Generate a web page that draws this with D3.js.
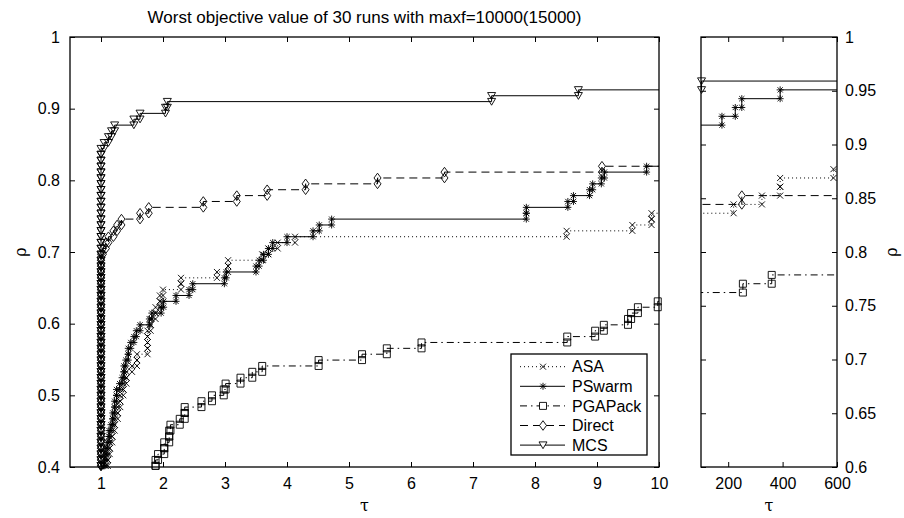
<!DOCTYPE html>
<html lang="en">
<head>
<meta charset="UTF-8">
<title>Worst objective value of 30 runs - performance profile</title>
<script src="https://d3js.org/d3.v7.min.js"></script>
<style>
  body { margin: 0; background: #fff; }
  svg { display: block; font-family: 'Liberation Sans', Arial, sans-serif; }
  .tick text { font-size: 16px; fill: #000; }
  .tick line { stroke: #000; stroke-width: 1; }
  .frame { fill: none; stroke: #000; stroke-width: 1.3; }
  .greek { font-family: 'DejaVu Serif', 'Liberation Serif', serif; font-size: 16px; }
</style>
</head>
<body>
<svg width="904" height="518"></svg>
<script>
const NP = 122; // number of test problems

const solvers = ["ASA", "PSwarm", "PGAPack", "Direct", "MCS"];

// [tau, cumulative number of problems with ratio <= tau]
const asaSteps = [[1.0, 35], [1.05, 45], [1.08, 49], [1.11, 51], [1.14, 53], [1.18, 55], [1.22, 57],
  [1.27, 59], [1.31, 61], [1.36, 63], [1.41, 65], [1.50, 66], [1.58, 68], [1.75, 72], [1.80, 74],
  [1.88, 76], [1.95, 78], [2.0, 79], [2.29, 81], [2.87, 82], [3.05, 84], [3.6, 85], [3.7, 86],
  [3.85, 87], [4.13, 88], [8.51, 89], [9.57, 90], [9.88, 92], [15, 94], [30, 97], [60, 100],
  [90, 102], [220, 103], [324, 104], [391, 106], [587, 107]];

const pswarmSteps = [[1.0, 40], [1.02, 46], [1.04, 49], [1.06, 50], [1.08, 52], [1.10, 53], [1.13, 55],
  [1.16, 56], [1.19, 58], [1.22, 60], [1.25, 62], [1.30, 63], [1.34, 64], [1.37, 66], [1.40, 67],
  [1.44, 69], [1.48, 70], [1.53, 71], [1.57, 72], [1.63, 73], [1.78, 74], [1.82, 75], [1.97, 76],
  [2.01, 77], [2.21, 78], [2.42, 79], [2.48, 80], [2.99, 81], [3.02, 82], [3.50, 83], [3.55, 84],
  [3.62, 85], [3.70, 86], [3.77, 87], [4.00, 88], [4.42, 89], [4.52, 90], [4.72, 91], [7.86, 93],
  [8.53, 94], [8.62, 95], [8.88, 96], [8.93, 97], [9.07, 98], [9.12, 99], [9.80, 100], [15, 103],
  [25, 106], [40, 109], [70, 112], [177, 113], [226, 114], [250, 115], [391, 116]];

const pgapackSteps = [[1.5, 30], [1.80, 45], [1.86, 48], [1.88, 50], [1.92, 51], [2.02, 53], [2.10, 55],
  [2.12, 56], [2.27, 57], [2.35, 59], [2.62, 60], [2.79, 61], [2.98, 62], [3.01, 63], [3.25, 64],
  [3.44, 65], [3.60, 66], [4.51, 67], [5.21, 68], [5.61, 69], [6.17, 70], [8.52, 71], [8.97, 72],
  [9.11, 73], [9.50, 74], [9.55, 75], [9.66, 76], [9.98, 77], [20, 82], [40, 87], [70, 91],
  [95, 93], [254, 94], [360, 95]];

const directSteps = [[1.0, 85], [1.03, 86], [1.08, 87], [1.12, 88], [1.20, 89], [1.26, 90], [1.33, 91],
  [1.63, 92], [1.77, 93], [2.65, 94], [3.19, 95], [3.68, 96], [4.30, 97], [5.46, 98], [6.54, 99],
  [9.08, 100], [20, 101], [40, 102], [70, 103], [250, 104]];

const mcsSteps = [[1.0, 103], [1.05, 104], [1.12, 105], [1.17, 106], [1.22, 107], [1.53, 108],
  [1.63, 109], [2.04, 110], [2.07, 111], [7.30, 112], [8.70, 113], [30, 114], [60, 115], [80, 116],
  [102, 117]];

const mainXTicks = [1, 2, 3, 4, 5, 6, 7, 8, 9, 10];
const mainYTicks = [0.4, 0.5, 0.6, 0.7, 0.8, 0.9, 1];
const sideXTicks = [200, 400, 600];
const sideYTicks = [0.6, 0.65, 0.7, 0.75, 0.8, 0.85, 0.9, 0.95, 1];

const series = [
  { name: solvers[0], steps: asaSteps, dash: "1,3", marker: "x" },
  { name: solvers[1], steps: pswarmSteps, dash: null, marker: "star" },
  { name: solvers[2], steps: pgapackSteps, dash: "7,4,1.5,4", marker: "square" },
  { name: solvers[3], steps: directSteps, dash: "8,5", marker: "diamond" },
  { name: solvers[4], steps: mcsSteps, dash: null, marker: "tri" }
];

const svg = d3.select("svg");

// marker shapes, centred on 0,0
const markerPath = {
  x: "M-3,-3L3,3M-3,3L3,-3",
  star: "M-3.5,0H3.5M0,-3.5V3.5M-2.6,-2.6L2.6,2.6M-2.6,2.6L2.6,-2.6",
  square: "M-3.5,-3.5h7v7h-7Z",
  diamond: "M0,-4.8L3.5,0L0,4.8L-3.5,0Z",
  tri: "M-4,-3.2L4,-3.2L0,3.6Z"
};

// expand cumulative counts into stair vertices, one pair per problem
function stairs(steps) {
  const taus = [];
  let prev = 0;
  steps.forEach(([t, k]) => {
    for (let i = prev; i < k; i++) taus.push(t);
    prev = k;
  });
  const pts = [];
  taus.forEach((t, i) => {
    pts.push([t, i / NP]);
    pts.push([t, (i + 1) / NP]);
  });
  return pts;
}

series.forEach(s => { s.pts = stairs(s.steps); });

function panel(id, box, xDomain, yDomain, xTicks, yTicks, yLabelsRight, xFmt, yFmt) {
  const x = d3.scaleLinear().domain(xDomain).range([box.x0, box.x1]);
  const y = d3.scaleLinear().domain(yDomain).range([box.y1, box.y0]);
  const g = svg.append("g");

  g.append("clipPath").attr("id", id)
    .append("rect")
    .attr("x", box.x0).attr("y", box.y0)
    .attr("width", box.x1 - box.x0).attr("height", box.y1 - box.y0);

  const line = d3.line().x(d => x(d[0])).y(d => y(d[1]));

  series.forEach(s => {
    const last = s.pts[s.pts.length - 1];
    const pts = s.pts.concat([[xDomain[1] * 2, last[1]]]);
    g.append("path")
      .attr("clip-path", `url(#${id})`)
      .attr("d", line(pts))
      .attr("fill", "none")
      .attr("stroke", "#000")
      .attr("stroke-width", 1)
      .attr("stroke-dasharray", s.dash);

    const visible = s.pts.filter(d => d[0] >= xDomain[0] && d[0] <= xDomain[1] &&
      d[1] >= yDomain[0] - 1e-6 && d[1] <= yDomain[1] + 1e-6);
    g.append("g").selectAll("path")
      .data(visible)
      .join("path")
      .attr("transform", d => `translate(${x(d[0])},${y(d[1])})`)
      .attr("d", markerPath[s.marker])
      .attr("fill", "none")
      .attr("stroke", "#000")
      .attr("stroke-width", 0.9);
  });

  // axes with inward ticks on all four sides
  const bottom = g.append("g").attr("transform", `translate(0,${box.y1})`)
    .call(d3.axisBottom(x).tickValues(xTicks).tickSizeInner(-5).tickSizeOuter(0).tickPadding(11).tickFormat(xFmt));
  const top = g.append("g").attr("transform", `translate(0,${box.y0})`)
    .call(d3.axisTop(x).tickValues(xTicks).tickSizeInner(-5).tickSizeOuter(0).tickFormat(""));
  const left = g.append("g").attr("transform", `translate(${box.x0},0)`)
    .call(d3.axisLeft(y).tickValues(yTicks).tickSizeInner(-5).tickSizeOuter(0).tickPadding(10)
      .tickFormat(yLabelsRight ? "" : yFmt));
  const right = g.append("g").attr("transform", `translate(${box.x1},0)`)
    .call(d3.axisRight(y).tickValues(yTicks).tickSizeInner(-5).tickSizeOuter(0).tickPadding(8)
      .tickFormat(yLabelsRight ? yFmt : ""));
  [bottom, top, left, right].forEach(a => {
    a.select(".domain").remove();
    a.attr("font-family", null).attr("font-size", null);
  });

  g.append("rect").attr("class", "frame")
    .attr("x", box.x0).attr("y", box.y0)
    .attr("width", box.x1 - box.x0).attr("height", box.y1 - box.y0);

  return { x, y };
}

const mainBox = { x0: 70, x1: 659, y0: 37, y1: 467 };
const sideBox = { x0: 701, x1: 837, y0: 37, y1: 467 };

panel("clipMain", mainBox, [0.5, 10], [0.4, 1], mainXTicks, mainYTicks, false, d3.format("d"), d => String(+d.toFixed(2)));
panel("clipSide", sideBox, [100, 600], [0.6, 1], sideXTicks, sideYTicks, true, d3.format("d"), d => String(+d.toFixed(2)));

// title and axis labels
svg.append("text")
  .attr("x", (mainBox.x0 + mainBox.x1) / 2).attr("y", 23)
  .attr("text-anchor", "middle")
  .attr("font-size", 17)
  .text("Worst objective value of 30 runs with maxf=10000(15000)");

svg.append("text").attr("class", "greek")
  .attr("x", (mainBox.x0 + mainBox.x1) / 2).attr("y", 511)
  .attr("text-anchor", "middle").text("τ");
svg.append("text").attr("class", "greek")
  .attr("x", (sideBox.x0 + sideBox.x1) / 2).attr("y", 511)
  .attr("text-anchor", "middle").text("τ");
svg.append("text").attr("class", "greek")
  .attr("transform", "translate(26,252) rotate(-90)")
  .attr("text-anchor", "middle").text("ρ");
svg.append("text").attr("class", "greek")
  .attr("transform", "translate(897,252) rotate(-90)")
  .attr("text-anchor", "middle").text("ρ");

// legend
const legend = svg.append("g");
legend.append("rect")
  .attr("x", 511).attr("y", 354).attr("width", 136).attr("height", 101)
  .attr("fill", "#fff").attr("stroke", "#000").attr("stroke-width", 1.3);
series.forEach((s, i) => {
  const ly = 366.7 + i * 19.6;
  legend.append("line")
    .attr("x1", 520).attr("x2", 565).attr("y1", ly).attr("y2", ly)
    .attr("stroke", "#000").attr("stroke-width", 1)
    .attr("stroke-dasharray", s.dash);
  legend.append("path")
    .attr("transform", `translate(543,${ly})`)
    .attr("d", markerPath[s.marker])
    .attr("fill", s.marker === "x" ? "none" : "#fff")
    .attr("stroke", "#000").attr("stroke-width", 0.9);
  legend.append("text")
    .attr("x", 572).attr("y", ly).attr("dy", "0.35em")
    .attr("font-size", 16)
    .text(s.name);
});
</script>
</body>
</html>
